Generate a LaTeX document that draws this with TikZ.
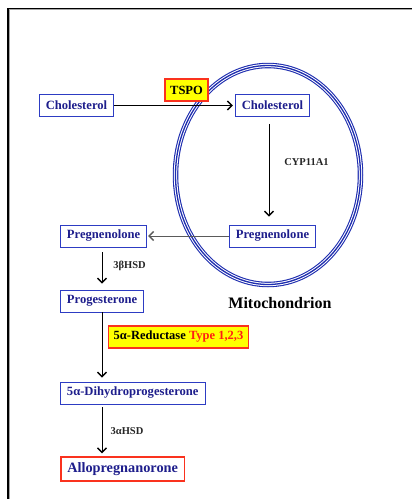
\documentclass[tikz,border=0pt]{standalone}
\usepackage{fontspec}
\setmainfont{Liberation Serif}
\usetikzlibrary{arrows.meta}
\definecolor{textblue}{RGB}{30,30,140}
\definecolor{boxblue}{RGB}{45,60,195}
\definecolor{mitoblue}{RGB}{30,45,175}
\definecolor{boxred}{RGB}{250,50,30}
\definecolor{hlyellow}{RGB}{255,255,0}
\definecolor{txtred}{RGB}{255,30,20}
\definecolor{arrgray}{RGB}{90,90,90}
\tikzset{
  molbox/.style={draw=boxblue, line width=0.9pt, fill=white, text=textblue,
    font=\bfseries\fontsize{12.6}{14}\selectfont, minimum height=22pt, inner xsep=6.5pt, inner ysep=2pt},
  finalbox/.style={molbox, draw=boxred, line width=1.5pt, minimum height=24pt,
    font=\bfseries\fontsize{14.3}{16}\selectfont},
  enzbox/.style={draw=boxred, line width=1.6pt, fill=hlyellow, text=black,
    font=\bfseries\fontsize{12.5}{14}\selectfont, minimum height=22pt, inner xsep=5pt},
  enzlabel/.style={text=black!85, font=\bfseries\fontsize{10.5}{12}\selectfont, inner sep=0pt},
  flow/.style={line width=1pt, -{Straight Barb[length=4.5pt,width=9pt,line width=1.4pt]}},
  membrane/.style={mitoblue, line width=5.5pt,
    postaction={draw=white, line width=3.3pt},
    postaction={draw=mitoblue, line width=1.3pt}},
}
\begin{document}
\begin{tikzpicture}[x=1pt,y=-1pt]
\useasboundingbox (0,0) rectangle (412,499);
% frame
\draw[black!35, line width=0.8pt] (9.3,499) -- (9.3,9.8) -- (412,9.8);
\draw[black, line width=1.2pt] (8,499) -- (8,8.5) -- (412,8.5);
% mitochondrion membrane (triple line)
\draw[membrane] (268,175) ellipse [x radius=92.5, y radius=109.5];
\node[text=black, font=\bfseries\fontsize{16}{18}\selectfont] (mitolabel) at (280,303) {Mitochondrion};
% coordinate for the vertical column of arrows
\coordinate (colx) at (102,0);
% molecules
\node[molbox] (chol1) at (76.5,105.5) {Cholesterol};
\node[molbox] (chol2) at (272.5,105.5) {Cholesterol};
\node[molbox] (preg2) at (272.5,236) {Pregnenolone};
\node[molbox, anchor=west] (preg1) at (60,236) {Pregnenolone};
\node[molbox, anchor=west] (prog) at (60,301) {Progesterone};
\node[molbox, anchor=west] (dhp) at (60,393) {5α-Dihydroprogesterone};
\node[finalbox, anchor=west] (allo) at (60,469) {Allopregnanorone};
% arrows
\draw[flow, shorten >=2pt] (chol1.east) -- (chol2.west);
\node[enzbox] (tspo) at (186.5,90) {TSPO};
\draw[flow, shorten <=7pt, shorten >=8pt] (chol2.south -| 269,0) -- (preg2.north -| 269,0);
\node[enzlabel] (cyp) at (306.5,162) {CYP11A1};
\draw[flow, draw=arrgray, shorten >=1pt] (preg2.west) -- (preg1.east);
\draw[flow, shorten <=5pt, shorten >=6pt] (preg1.south -| colx) -- (prog.north -| colx);
\node[enzlabel] (hsd3b) at (129.5,266) {3βHSD};
\draw[flow, shorten >=4pt] (prog.south -| colx) -- (dhp.north -| colx);
\node[enzbox] (red5a) at (178.5,337) {5α-Reductase \textcolor{txtred}{Type 1,2,3}};
\draw[flow, shorten <=3pt, shorten >=3pt] (dhp.south -| colx) -- (allo.north -| colx);
\node[enzlabel] (hsd3a) at (127,431) {3αHSD};
\end{tikzpicture}
\end{document}
